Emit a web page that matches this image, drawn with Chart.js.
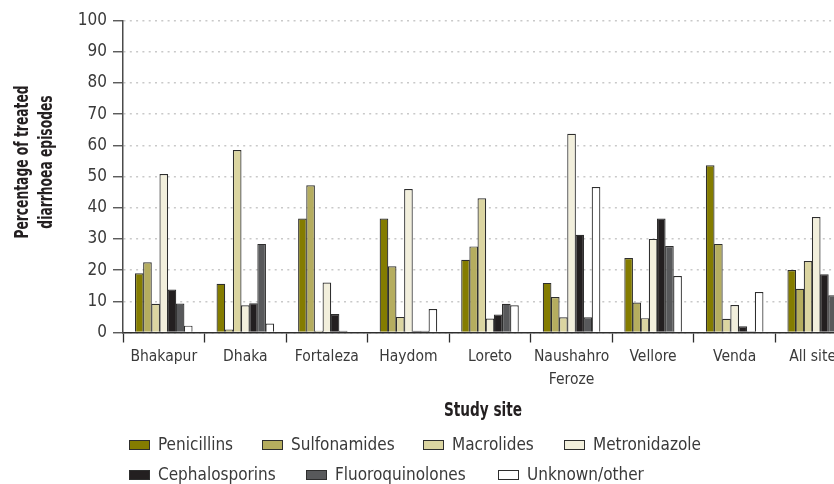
<!DOCTYPE html>
<html>
<head>
<meta charset="utf-8">
<script src="https://cdn.jsdelivr.net/npm/chart.js@4/dist/chart.umd.min.js"></script>
<style>
  html, body { margin: 0; padding: 0; background: #fff; overflow: hidden; }
  #wrap { width: 834px; height: 484px; overflow: hidden; }
</style>
</head>
<body>
<div id="wrap"><canvas id="chart" width="857" height="484"></canvas></div>
<script>
// Valeurs (pourcentage des épisodes traités)
const sites = ['Bhakapur', 'Dhaka', 'Fortaleza', 'Haydom', 'Loreto', ['Naushahro', 'Feroze'], 'Vellore', 'Venda', 'All sites'];
const drugLabels = ['Penicillins', 'Sulfonamides', 'Macrolides', 'Metronidazole', 'Cephalosporins', 'Fluoroquinolones', 'Unknown/other'];

const penicillins      = [19.0, 15.6, 36.5, 36.5, 23.3, 15.9, 23.9, 53.6, 20.0];
const sulfonamides     = [22.5,  1.0, 47.2, 21.2, 27.6, 11.4,  9.6, 28.4, 14.0];
const macrolides       = [ 9.2, 58.5,  0.6,  5.0, 43.0,  4.9,  4.6,  4.4, 22.9];
const metronidazole    = [50.8,  8.7, 16.0, 46.0,  4.5, 63.7, 30.0,  8.8, 37.0];
const cephalosporins   = [13.8,  9.4,  5.9,  0.6,  5.8, 31.3, 36.5,  2.0, 18.7];
const fluoroquinolones = [ 9.3, 28.4,  0.6,  0.6,  9.2,  4.9, 27.7,  0.4, 11.9];
const unknownOther     = [ 2.2,  2.9,  0.0,  7.5,  8.7, 46.6, 18.1, 13.0, 10.0];

const yTicks = [0, 10, 20, 30, 40, 50, 60, 70, 80, 90, 100];

const COLORS = ['#847c00', '#b5ad5f', '#dbd5a1', '#f2efdc', '#231f20', '#58595b', '#ffffff'];
const EDGE = '#2e2e2e';
const TEXT = '#3a3a3a';
const FONT = "'DejaVu Sans Condensed', 'Liberation Sans Narrow', sans-serif";

const series = [penicillins, sulfonamides, macrolides, metronidazole, cephalosporins, fluoroquinolones, unknownOther];

// texte compressé horizontalement (la police d'origine est plus étroite)
function narrowText(ctx, txt, x, y, rot, sx) {
  ctx.save();
  ctx.translate(x, y);
  ctx.rotate(rot);
  ctx.scale(sx, 1);
  ctx.fillText(txt, 0, 0);
  ctx.restore();
}

// Légende + titres d'axes dessinés à la main (positions calées sur la figure)
const decorPlugin = {
  id: 'decor',
  afterDraw(chart) {
    const ctx = chart.ctx;
    ctx.save();

    ctx.fillStyle = '#231f20';
    ctx.font = 'bold 19px ' + FONT;
    ctx.textAlign = 'center';
    ctx.textBaseline = 'middle';
    // titre Y (2 lignes)
    narrowText(ctx, 'Percentage of treated', 23, 162, -Math.PI / 2, 0.72);
    narrowText(ctx, 'diarrhoea episodes', 47, 162, -Math.PI / 2, 0.72);
    // titre X
    narrowText(ctx, 'Study site', 483, 411, 0, 0.8);

    // légende
    const rows = [
      { y: 445, items: [0, 1, 2, 3], xs: [129, 262, 423, 564] },
      { y: 475, items: [4, 5, 6],    xs: [129, 306, 498] },
    ];
    ctx.font = '17px ' + FONT;
    ctx.textAlign = 'left';
    ctx.lineWidth = 1;
    rows.forEach(row => {
      row.items.forEach((idx, k) => {
        const ds = chart.data.datasets[idx];
        const bx = row.xs[k];
        ctx.fillStyle = ds.backgroundColor;
        ctx.fillRect(bx, row.y - 5, 21, 10);
        ctx.strokeStyle = EDGE;
        ctx.strokeRect(bx + 0.5, row.y - 4.5, 20, 9);
        ctx.fillStyle = TEXT;
        ctx.fillText(ds.label, bx + 29, row.y + 1);
      });
    });
    ctx.restore();
  }
};

new Chart(document.getElementById('chart'), {
  type: 'bar',
  data: {
    labels: sites,
    datasets: drugLabels.map((lab, i) => ({
      label: lab,
      data: series[i],
      backgroundColor: COLORS[i],
      borderColor: EDGE,
      borderWidth: 1.2,
      barPercentage: 1.06,
      categoryPercentage: 0.70,
    })),
  },
  options: {
    responsive: false,
    animation: false,
    layout: { padding: { top: 20.5, left: 0, right: 0, bottom: 0 } },
    plugins: {
      legend: { display: false },
      tooltip: { enabled: false },
    },
    scales: {
      x: {
        offset: true,
        grid: { offset: true, drawOnChartArea: false, drawTicks: true, tickLength: 10, tickColor: EDGE, tickWidth: 1.3 },
        border: { color: EDGE, width: 1.5 },
        ticks: { color: TEXT, font: { family: FONT, size: 15.5, lineHeight: 1.5 }, padding: 3, maxRotation: 0, autoSkip: false },
        afterFit(scale) { scale.height = 151.5; },
      },
      y: {
        min: 0,
        max: 100,
        afterBuildTicks(scale) { scale.ticks = yTicks.map(v => ({ value: v })); },
        grid: { color: '#c9c9c9', lineWidth: 1.5, tickColor: '#4a4a4a', tickWidth: 1.3, tickLength: 10, tickBorderDash: [] },
        border: { color: '#4a4a4a', width: 1.5, dash: [2, 4.3] },
        ticks: { color: TEXT, font: { family: FONT, size: 17 }, padding: 6 },
        afterFit(scale) { scale.width = 123; },
      },
    },
  },
  plugins: [decorPlugin],
});
</script>
</body>
</html>
